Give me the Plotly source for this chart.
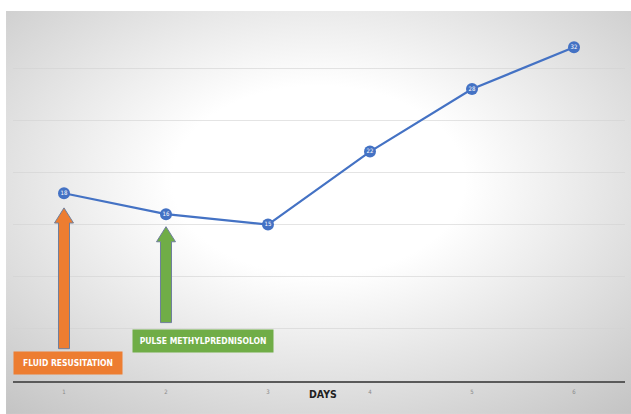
import urllib.parse
import plotly.graph_objects as go

# Daily readings
days = [1, 2, 3, 4, 5, 6]
values = [18, 16, 15, 22, 28, 32]
tick_labels = ["1", "2", "3", "4", "5", "6"]

# Treatment events: day, arrow tip / tail values, label text, colour
event_days = [1, 2]
event_tips = [16.6, 14.8]
event_tails = [3.1, 5.6]
event_labels = ["FLUID RESUSITATION", "PULSE METHYLPREDNISOLON"]
event_colors = ["#ED7D31", "#70AD47"]
event_label_x = [1.043, 2.36]
event_label_y = [1.75, 3.85]
event_label_w = [104, 136]

BLUE = "#4472C4"
NARROW = "DejaVu Sans Condensed, Liberation Sans Narrow, Arial Narrow, sans-serif"

fig = go.Figure()

fig.add_trace(go.Scatter(
    x=days, y=values,
    mode="lines+markers+text",
    line=dict(color=BLUE, width=2.2),
    marker=dict(size=12, color=BLUE, line=dict(width=0)),
    text=[str(v) for v in values],
    textposition="middle center",
    textfont=dict(size=6, color="white", family=NARROW),
    hoverinfo="skip",
    showlegend=False,
    cliponaxis=False,
))

# Block arrows pointing up at the event days
shaft_hw, head_hw, head_len = 0.054, 0.093, 1.45
shapes = []
for d, tip, tail, col in zip(event_days, event_tips, event_tails, event_colors):
    hb = tip - head_len
    path = (f"M {d - shaft_hw} {tail} L {d - shaft_hw} {hb} L {d - head_hw} {hb} "
            f"L {d} {tip} L {d + head_hw} {hb} L {d + shaft_hw} {hb} "
            f"L {d + shaft_hw} {tail} Z")
    shapes.append(dict(type="path", path=path, xref="x", yref="y",
                       fillcolor=col, line=dict(color="#6F7F9C", width=1),
                       layer="above"))

annotations = []
for lbl, col, lx, ly, w in zip(event_labels, event_colors, event_label_x,
                                event_label_y, event_label_w):
    annotations.append(dict(
        x=lx, y=ly, xref="x", yref="y", text=f"<b>{lbl}</b>",
        showarrow=False, bgcolor=col, width=w, height=18,
        font=dict(size=8.5, color="white", family=NARROW),
        xanchor="center", yanchor="middle", borderpad=2,
    ))

annotations.append(dict(
    x=0.507, y=0, xref="paper", yref="paper", yshift=-13,
    text="<b>DAYS</b>", showarrow=False,
    font=dict(size=10.5, color="#1F1F1F", family=NARROW),
    xanchor="center", yanchor="middle",
))

# Radial grey-to-white backdrop for the chart area
svg = (
    "<svg xmlns='http://www.w3.org/2000/svg' width='625' height='403' "
    "viewBox='0 0 625 403' preserveAspectRatio='none'>"
    "<defs><radialGradient id='g' cx='0.5' cy='0.42' r='0.78'>"
    "<stop offset='0.3' stop-color='#ffffff'/>"
    "<stop offset='1' stop-color='#c2c2c2'/>"
    "</radialGradient></defs>"
    "<rect width='625' height='403' fill='url(#g)'/></svg>"
)
bg_src = "data:image/svg+xml;charset=utf-8," + urllib.parse.quote(svg)

fig.update_layout(
    width=631, height=414,
    margin=dict(l=13, r=6, t=16, b=33),
    paper_bgcolor="white",
    plot_bgcolor="rgba(0,0,0,0)",
    shapes=shapes,
    annotations=annotations,
    images=[dict(source=bg_src, xref="paper", yref="paper",
                 x=-0.0114, y=1.0137, sizex=1.0212, sizey=1.104,
                 xanchor="left", yanchor="top", sizing="stretch",
                 layer="below")],
    xaxis=dict(
        range=[0.5, 6.5], tickmode="array", tickvals=days, ticktext=tick_labels,
        showgrid=False, zeroline=False, showline=True, linecolor="#5A5A5A",
        linewidth=1.5, ticks="outside", ticklen=4, tickcolor="rgba(0,0,0,0)",
        tickfont=dict(size=6, color="#8A8A8A", family=NARROW),
        fixedrange=True,
    ),
    yaxis=dict(
        range=[0, 35], dtick=5, showgrid=True, gridcolor="rgba(210,210,210,0.6)",
        gridwidth=1, zeroline=False, showticklabels=False, showline=False,
        fixedrange=True,
    ),
)

fig.write_html("out.html")
